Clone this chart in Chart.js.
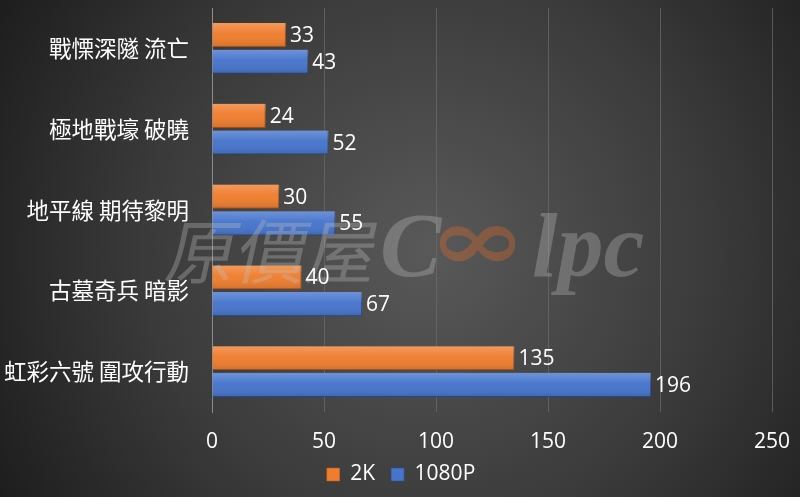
<!DOCTYPE html>
<html><head><meta charset="utf-8">
<script src="https://cdn.jsdelivr.net/npm/chart.js@4"></script>
<style>html,body{margin:0;padding:0;background:#222;}#wrap{width:800px;height:497px;}</style>
</head><body><div id="wrap"><canvas id="c" width="800" height="497"></canvas></div>
<script>
const categories = ['戰慄深隧 流亡', '極地戰壕 破曉', '地平線 期待黎明', '古墓奇兵 暗影', '虹彩六號 圍攻行動'];
const series2K = [33, 24, 30, 40, 135];
const series1080P = [43, 52, 55, 67, 196];
const seriesNames = ['2K', '1080P'];
const xMin = 0, xMax = 250, xStep = 50;

const CJK = '"Noto Sans CJK TC", "Noto Sans", sans-serif';
const NUM = '"Open Sans", "Noto Sans", sans-serif';

const bgPlugin = {
  id: 'bg',
  beforeDraw(chart) {
    const ctx = chart.ctx;
    const g = ctx.createRadialGradient(430, 250, 0, 430, 250, 520);
    g.addColorStop(0, '#595959');
    g.addColorStop(0.55, '#3a3a3a');
    g.addColorStop(1, '#1a1a1a');
    ctx.save();
    ctx.fillStyle = g;
    ctx.fillRect(0, 0, chart.width, chart.height);
    ctx.restore();
  }
};

const legendShift = {
  id: 'legendShift',
  afterLayout(chart) {
    if (chart.legend) { chart.legend.left += 15; chart.legend.right += 15; }
  }
};

const shinePlugin = {
  id: 'shine',
  afterDatasetsDraw(chart) {
    const ctx = chart.ctx;
    ctx.save();
    chart.data.datasets.forEach((ds, i) => {
      const meta = chart.getDatasetMeta(i);
      meta.data.forEach(bar => {
        const top = bar.y - bar.height / 2;
        const left = Math.min(bar.base, bar.x);
        const w = Math.abs(bar.x - bar.base);
        const g = ctx.createLinearGradient(0, top, 0, top + bar.height);
        g.addColorStop(0, 'rgba(255,255,255,0.22)');
        g.addColorStop(0.45, 'rgba(255,255,255,0.03)');
        g.addColorStop(1, 'rgba(0,0,0,0.12)');
        ctx.fillStyle = g;
        ctx.fillRect(left, top, w, bar.height);
      });
    });
    ctx.restore();
  }
};

const watermarkPlugin = {
  id: 'watermark',
  afterDatasetsDraw(chart) {
    const ctx = chart.ctx;
    ctx.save();
    ctx.fillStyle = 'rgba(190,190,190,0.33)';
    ctx.textBaseline = 'alphabetic';
    ctx.save();
    ctx.translate(163, 278);
    ctx.transform(1, 0, -0.22, 1, 0, 0);
    ctx.font = '70px "Noto Sans CJK TC"';
    ctx.fillText('原價屋', 0, 0);
    ctx.restore();
    ctx.font = 'italic bold 92px "Liberation Serif"';
    ctx.fillText('C', 380, 276);
    ctx.fillText('lpc', 532, 276);
    ctx.fillStyle = 'rgba(225,105,40,0.35)';
    ctx.save();
    ctx.translate(428, 270);
    ctx.scale(1.35, 1);
    ctx.font = 'bold 88px "DejaVu Serif"';
    ctx.fillText('∞', 0, 0);
    ctx.restore();
    ctx.restore();
  }
};

const labelPlugin = {
  id: 'vals',
  afterDatasetsDraw(chart) {
    const ctx = chart.ctx;
    ctx.save();
    ctx.fillStyle = '#ffffff';
    ctx.font = '21px ' + NUM;
    ctx.textAlign = 'left';
    ctx.textBaseline = 'middle';
    chart.data.datasets.forEach((ds, i) => {
      const meta = chart.getDatasetMeta(i);
      meta.data.forEach((bar, j) => {
        ctx.fillText(String(ds.data[j]), bar.x + 4, bar.y + 1);
      });
    });
    ctx.restore();
  }
};

new Chart(document.getElementById('c'), {
  type: 'bar',
  data: {
    labels: categories,
    datasets: [
      { label: seriesNames[0], data: series2K, backgroundColor: '#EF7D2D', borderColor: '#B85515', borderWidth: {top:0,left:0,right:1,bottom:1}, borderSkipped: 'start', categoryPercentage: 0.66, barPercentage: 0.905 },
      { label: seriesNames[1], data: series1080P, backgroundColor: '#4674CC', borderColor: '#2B4F95', borderWidth: {top:0,left:0,right:1,bottom:1}, borderSkipped: 'start', categoryPercentage: 0.66, barPercentage: 0.905 }
    ]
  },
  options: {
    indexAxis: 'y',
    responsive: false,
    animation: false,
    layout: { padding: { top: 8, right: 28, bottom: 2, left: 0 } },
    plugins: {
      tooltip: { enabled: false },
      legend: {
        position: 'bottom',
        labels: {
          color: '#ffffff',
          font: { size: 21, family: NUM },
          boxWidth: 13, boxHeight: 13,
          padding: 16
        }
      }
    },
    scales: {
      x: {
        min: xMin, max: xMax,
        ticks: { stepSize: xStep, color: '#ffffff', font: { size: 21, family: NUM }, padding: 17 },
        grid: { color: 'rgba(105,105,105,0.75)', drawTicks: false, lineWidth: 1 },
        border: { display: false },
        afterFit(s) { s.height = 36; s.paddingLeft = 0; s.paddingRight = 0; }
      },
      y: {
        ticks: { color: '#ffffff', font: { size: 22.5, family: CJK }, padding: 15 },
        grid: { display: false },
        border: { display: true, color: '#8c8c8c', width: 1 },
        afterFit(s) { s.width = 212; s.paddingTop = 0; s.paddingBottom = 0; }
      }
    }
  },
  plugins: [bgPlugin, legendShift, shinePlugin, watermarkPlugin, labelPlugin]
});
</script></body></html>
